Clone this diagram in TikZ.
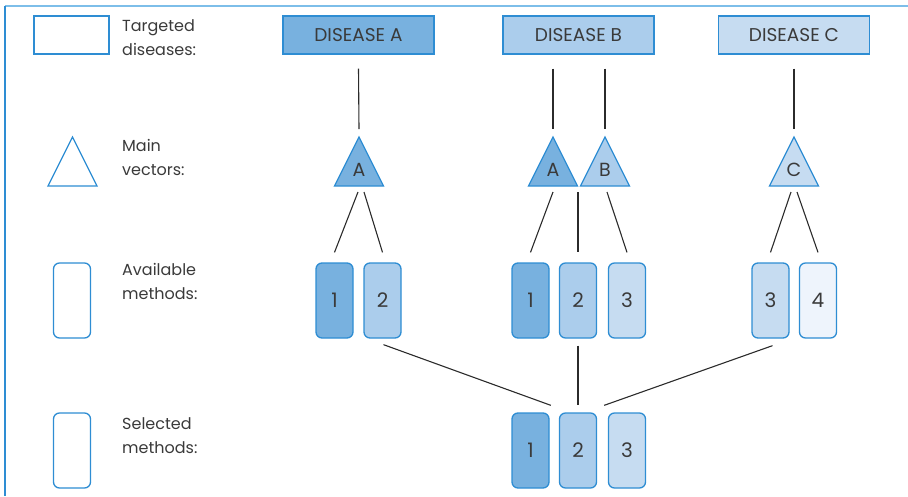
\documentclass[tikz,border=0pt]{standalone}
\usepackage{fontspec}
\setmainfont{Poppins}
\usetikzlibrary{calc}

\definecolor{bluedk}{HTML}{78B1DF}
\definecolor{bluemd}{HTML}{ABCDEC}
\definecolor{bluelt}{HTML}{C6DCF1}
\definecolor{bluevl}{HTML}{EEF4FC}
\definecolor{edgeblue}{HTML}{2E8DD3}
\definecolor{framelt}{HTML}{7DBEE9}
\definecolor{txtgray}{HTML}{3A3A3A}
\definecolor{linegray}{HTML}{2B2B2B}

\begin{document}
\begin{tikzpicture}[x=1pt,y=-1pt,
    every node/.style={text=txtgray, font=\fontsize{19}{21}\selectfont},
    dis/.style={draw=edgeblue, line width=1.3pt, minimum width=151pt,
      minimum height=38pt, inner sep=0pt, font=\fontsize{18.5}{20}\selectfont},
    meth/.style={draw=edgeblue, line width=1.3pt, rounded corners=6pt,
      minimum width=37pt, minimum height=75pt, inner sep=0pt,
      font=\fontsize{20}{22}\selectfont},
    tri/.style={draw=edgeblue, line width=1.3pt},
    lgtxt/.style={align=left, anchor=north west, inner sep=0pt,
      font=\fontsize{16}{24}\selectfont},
    link/.style={draw=linegray, line width=1.1pt}]

    \useasboundingbox (0,0) rectangle (908,496);

    % frame
    \draw[framelt, line width=2pt] (5,6) -- (908,6);
    \draw[edgeblue, line width=2pt] (5,6) -- (5,496);

    % legend
    \node[dis, fill=white, minimum width=75pt] (lgdis) at (71.5,35) {};
    \draw[tri, fill=white] (72.5,137) -- ++(-24.5,49) -- ++(49,0) -- cycle;
    \node[meth, fill=white] (lgavl) at (72,300.5) {};
    \node[meth, fill=white] (lgsel) at (72,450.5) {};
    \node[lgtxt] (tdis) at (122,19) {Targeted\\diseases:};
    \node[lgtxt] (tvec) at (122,139) {Main\\vectors:};
    \node[lgtxt] (tavl) at (122,263) {Available\\methods:};
    \node[lgtxt] (tsel) at (122,417) {Selected\\methods:};

    % targeted diseases
    \node[dis, fill=bluedk] (dA) at (358.5,35) {DISEASE A};
    \node[dis, fill=bluemd] (dB) at (578.5,35) {DISEASE B};
    \node[dis, fill=bluelt] (dC) at (794,35) {DISEASE C};

    % main vectors
    \foreach \x/\c in {359/bluedk, 553/bluedk, 605/bluemd, 794/bluelt}
      \draw[tri, fill=\c] (\x,137) -- ++(-24.5,49) -- ++(49,0) -- cycle;
    \node (vA) at (359,170) {A};
    \node (vBa) at (553,170) {A};
    \node (vBb) at (605,170) {B};
    \node (vC) at (794,170) {C};

    % available methods
    \node[meth, fill=bluedk] (mA1) at (334.5,300.5) {1};
    \node[meth, fill=bluemd] (mA2) at (382.5,300.5) {2};
    \node[meth, fill=bluedk] (mB1) at (530.5,300.5) {1};
    \node[meth, fill=bluemd] (mB2) at (578,300.5) {2};
    \node[meth, fill=bluelt] (mB3) at (627,300.5) {3};
    \node[meth, fill=bluelt] (mC3) at (770.5,300.5) {3};
    \node[meth, fill=bluevl] (mC4) at (818,300.5) {4};

    % selected methods
    \node[meth, fill=bluedk] (sM1) at (530.5,450.5) {1};
    \node[meth, fill=bluemd] (sM2) at (578,450.5) {2};
    \node[meth, fill=bluelt] (sM3) at (627,450.5) {3};

    % diseases to vectors
    \draw[link] ($(dA.south)+(0,14)$) -- ($(vA)+(0,-41)$);
    \draw[link] ($(dB.south -| vBa)+(0,14)$) -- ($(vBa)+(0,-41)$);
    \draw[link] ($(dB.south -| vBb)+(0,14)$) -- ($(vBb)+(0,-41)$);
    \draw[link] ($(dC.south)+(0,14)$) -- ($(vC)+(0,-41)$);

    % vectors to methods
    \draw[link] ($(vA)+(-1,22)$) -- ($(mA1.north)+(0,-10)$);
    \draw[link] ($(vA)+(5,22)$) -- ($(mA2.north)+(0,-10)$);
    \draw[link] ($(vBa)+(0,22)$) -- ($(mB1.north)+(0,-10)$);
    \draw[link] ($(mB2.north |- vBa)+(0,22)$) -- ($(mB2.north)+(0,-10)$);
    \draw[link] ($(vBb)+(2,22)$) -- ($(mB3.north)+(0,-10)$);
    \draw[link] ($(vC)+(-3,22)$) -- ($(mC3.north)+(0,-10)$);
    \draw[link] ($(vC)+(3,22)$) -- ($(mC4.north)+(0,-10)$);

    % methods to selection
    \draw[link] ($(mA2.south)+(1,6)$) -- ($(sM2.north west)+(-8,-7)$);
    \draw[link] ($(mB2.south)+(0,7)$) -- ($(sM2.north)+(0,-7)$);
    \draw[link] ($(mC3.south)+(2,7)$) -- ($(sM2.north east)+(7,-7)$);

  \end{tikzpicture}
\end{document}
